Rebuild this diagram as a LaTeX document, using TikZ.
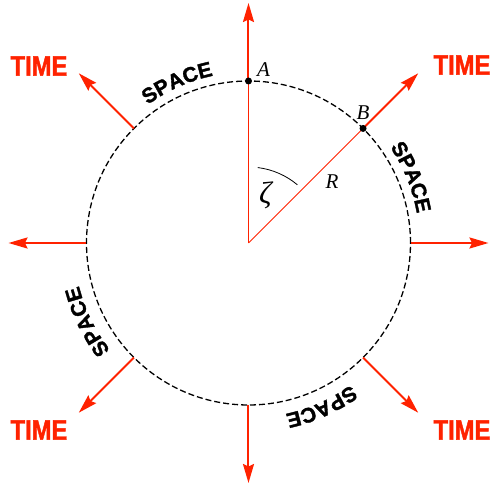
\RequirePackage{fix-cm}
\documentclass[tikz,border=0pt]{standalone}
\usepackage{fontspec}
\usepackage{graphicx}
\usetikzlibrary{arrows.meta,decorations.text}
\newfontfamily\heavysans{Liberation Sans}[BoldFeatures={FakeBold=1.6}]
\newfontfamily\labelserif{Liberation Serif}
\definecolor{timered}{RGB}{255,34,0}
\tikzset{
  timearrow/.style={draw=timered, line width=2pt, -{Stealth[length=19pt,width=11pt,inset=2.5pt]}},
  radiusline/.style={draw=timered, line width=0.8pt},
  spacecircle/.style={draw=black, line width=1.3pt, dash pattern=on 6pt off 3pt},
  timelabel/.style={text=timered, font=\heavysans\bfseries\fontsize{28}{28}\selectfont, inner sep=0pt},
  pointdot/.style={circle, fill=black, minimum size=7pt, inner sep=0pt},
  mathlabel/.style={font=\labelserif\itshape\fontsize{21}{24}\selectfont, inner sep=0pt},
  spacetext/.style={decorate, decoration={text along path, text align=center,
     text={|\heavysans\bfseries\fontsize{21}{21}\selectfont|SPACE}}},
}
\begin{document}
\begin{tikzpicture}[x=1pt,y=1pt]
\useasboundingbox (-248.5,-241) rectangle (244.5,243);
\coordinate (O) at (0,0);
% dashed circle
\draw[spacecircle] (O) circle[radius=162];
% points on the circle and arrow tips
\foreach \ang/\nm in {0/E,45/NE,90/N,135/NW,180/W,225/SW,270/S,315/SE}{
  \coordinate (c\nm) at (\ang:162);
  \coordinate (t\nm) at (\ang:240);
}
% radii
\draw[radiusline] (O) -- (cN);
\draw[radiusline] (O) -- (cNE);
% time arrows
\foreach \nm in {E,NE,N,NW,W,SW,S,SE}{
  \draw[timearrow] (c\nm) -- (t\nm);
}
% angle arc
\draw[line width=0.8pt] (83:76) arc[start angle=83, end angle=50, radius=76];
% points
\node[pointdot] (A) at (cN) {};
\node[pointdot] (B) at (cNE) {};
\node[mathlabel] (Alabel) at (15,173) {A};
\node[mathlabel] (Blabel) at (114.5,130) {B};
\node[mathlabel] (Rlabel) at (83.5,61) {R};
\node[font=\labelserif\itshape\fontsize{31}{31}\selectfont, inner sep=0pt, anchor=base] (zeta) at (17,39) {ζ};
% TIME labels
\node[timelabel] (timeNW) at (-209.5,177) {\scalebox{0.85}[1]{TIME}};
\node[timelabel] (timeNE) at (213.5,178) {\scalebox{0.85}[1]{TIME}};
\node[timelabel] (timeSW) at (-209.5,-187) {\scalebox{0.85}[1]{TIME}};
\node[timelabel] (timeSE) at (213.5,-187) {\scalebox{0.85}[1]{TIME}};
% SPACE labels along the circle
\path[spacetext] (130:171) arc[start angle=130, end angle=98, radius=171];
\path[spacetext] (38:171) arc[start angle=38, end angle=6, radius=171];
\path[spacetext] (310:175) arc[start angle=310, end angle=278, radius=175];
\path[spacetext] (222:175) arc[start angle=222, end angle=190, radius=175];
\end{tikzpicture}
\end{document}
